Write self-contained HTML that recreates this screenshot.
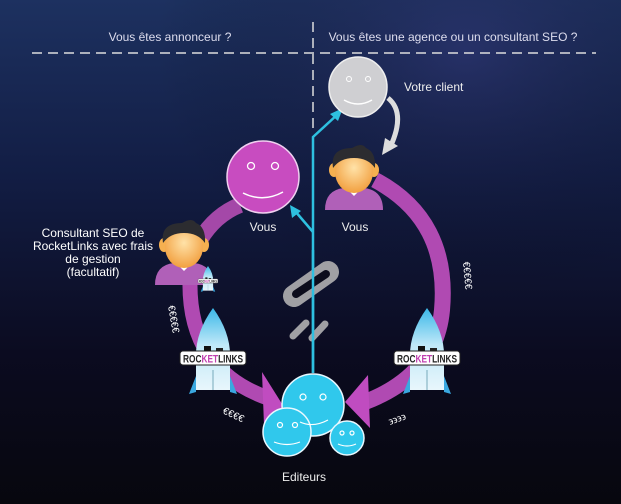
<!DOCTYPE html>
<html><head><meta charset="utf-8"><style>
html,body{margin:0;padding:0;width:621px;height:504px;overflow:hidden;background:#0a0a14}
svg{display:block}
text{font-family:"Liberation Sans",Arial,sans-serif;fill:#fff}
</style></head><body>
<svg width="621" height="504" viewBox="0 0 621 504" xmlns="http://www.w3.org/2000/svg">
<defs>
<linearGradient id="bg" x1="0" y1="0" x2="0" y2="1">
<stop offset="0" stop-color="#1d3160"/><stop offset="0.35" stop-color="#121d44"/><stop offset="0.7" stop-color="#0b0b20"/><stop offset="1" stop-color="#07070e"/>
</linearGradient>
<radialGradient id="glow" cx="0.75" cy="0.1" r="0.5"><stop offset="0" stop-color="#3a3a80" stop-opacity="0.4"/><stop offset="1" stop-color="#000" stop-opacity="0"/></radialGradient>
<radialGradient id="face" cx="0.5" cy="0.4" r="0.6"><stop offset="0" stop-color="#ffe2a8"/><stop offset="1" stop-color="#f2a040"/></radialGradient>
<linearGradient id="rock" x1="0" y1="0" x2="0" y2="1"><stop offset="0" stop-color="#3ab8e8"/><stop offset="0.45" stop-color="#bfe8f8"/><stop offset="1" stop-color="#e8f6fc"/></linearGradient>
<g id="person">
<path d="M-29,38 Q-29,18 -10,16 L10,16 Q29,18 29,38 Z" fill="#b060b8"/>
<path d="M-8,16 L0,24 L8,16 Z" fill="#fff"/>
<ellipse cx="-20" cy="-2" rx="5" ry="7" fill="#f5b050"/><ellipse cx="20" cy="-2" rx="5" ry="7" fill="#f5b050"/>
<ellipse cx="0" cy="0" rx="19" ry="21" fill="url(#face)"/>
<path d="M-21,-4 Q-24,-24 -2,-24 Q8,-30 12,-24 Q22,-20 21,-4 Q14,-14 0,-14 Q-14,-14 -21,-4 Z" fill="#2c2c30"/>
</g>
<g id="rocket">
<path d="M0,0 Q-18,25 -17,50 L-17,82 L17,82 L17,50 Q18,25 0,0 Z" fill="url(#rock)"/>
<path d="M-17,68 L-24,86 L-17,84 Z M17,68 L24,86 L17,84 Z" fill="#3aa8e0"/>
<rect x="-9" y="38" width="7" height="7" fill="#111"/><rect x="3" y="40" width="7" height="7" fill="#222"/>
<rect x="-33" y="43" width="66" height="14" rx="3" fill="#fff" stroke="#222" stroke-width="1"/>
<text x="-30" y="54.5" font-size="11" font-weight="bold" textLength="60" lengthAdjust="spacingAndGlyphs" style="fill:#222">ROC<tspan style="fill:#c040b0">KET</tspan>LINKS</text>
<line x1="0" y1="62" x2="0" y2="82" stroke="#7ab" stroke-width="1"/>
</g>
</defs>
<rect width="621" height="504" fill="url(#bg)"/>
<rect width="621" height="504" fill="url(#glow)"/>

<text x="170" y="41" font-size="12" text-anchor="middle" style="fill:#dde">Vous êtes annonceur ?</text>
<text x="453" y="41" font-size="12" text-anchor="middle" style="fill:#dde">Vous êtes une agence ou un consultant SEO ?</text>
<line x1="32" y1="53" x2="596" y2="53" stroke="#ddd" stroke-width="1.5" stroke-dasharray="10,6"/>
<line x1="313" y1="22" x2="313" y2="134" stroke="#ddd" stroke-width="1.5" stroke-dasharray="10,6"/>

<path d="M240,205 Q215,215 200,240" fill="none" stroke="#a448a8" stroke-width="16"/>
<path d="M190,280 Q188,370 268,398" fill="none" stroke="#b04ab2" stroke-width="15"/>
<polygon points="262,372 284,407 264,425" fill="#c04cc0"/>
<path d="M375,180 Q450,220 442,310 Q436,375 365,402" fill="none" stroke="#b04ab2" stroke-width="16"/>
<polygon points="368,375 345,402 370,428" fill="#c04cc0"/>

<path d="M313,373 L313,137 L338,114" fill="none" stroke="#2ec0e0" stroke-width="2.5"/>
<polygon points="343,108 330,114 338,121" fill="#2ec0e0"/>
<line x1="313" y1="232" x2="295" y2="211" stroke="#2ec0e0" stroke-width="2.5"/>
<polygon points="290,205 292,218 301,211" fill="#2ec0e0"/>

<ellipse cx="358" cy="87" rx="29" ry="30" fill="#cfcfd2" stroke="#eee" stroke-width="1.5"/>
<circle cx="349" cy="79" r="2.5" fill="none" stroke="#fff"/><circle cx="368" cy="79" r="2.5" fill="none" stroke="#fff"/>
<path d="M344,100 Q358,108 372,100" fill="none" stroke="#fff" stroke-width="1.5"/>
<text x="404" y="91" font-size="12" style="fill:#eee">Votre client</text>
<path d="M388,98 Q405,112 392,143" fill="none" stroke="#ddd" stroke-width="5"/>
<polygon points="382,155 385,138 398,146" fill="#ddd"/>

<circle cx="263" cy="177" r="36" fill="#c84cc0" stroke="#f0d0f0" stroke-width="1.5"/>
<circle cx="251" cy="166" r="3.5" fill="none" stroke="#fff" stroke-width="1.3"/><circle cx="275" cy="166" r="3.5" fill="none" stroke="#fff" stroke-width="1.3"/>
<path d="M243,193 Q263,203 283,192" fill="none" stroke="#fff" stroke-width="1.5"/>

<use href="#person" x="354" y="172"/>
<use href="#person" x="184" y="247"/>
<text x="263" y="231" font-size="12" text-anchor="middle" style="fill:#eee">Vous</text>
<text x="355" y="231" font-size="12" text-anchor="middle" style="fill:#eee">Vous</text>

<g font-size="12" text-anchor="middle" style="fill:#eee">
<text x="93" y="237">Consultant SEO de</text>
<text x="93" y="250">RocketLinks avec frais</text>
<text x="93" y="263">de gestion</text>
<text x="93" y="276">(facultatif)</text>
</g>

<g transform="translate(208,266) scale(0.3)"><use href="#rocket"/></g>
<use href="#rocket" x="213" y="308"/>
<use href="#rocket" x="427" y="308"/>

<g fill="none" stroke-linecap="round">
<path d="M294,296 L328,272" stroke="#a0a0a4" stroke-width="22"/>
<path d="M296,294 L326,274" stroke="#0c0c1c" stroke-width="8"/>
<path d="M293,336 L306,323" stroke="#a0a0a4" stroke-width="7"/>
<path d="M312,338 L325,324" stroke="#a0a0a4" stroke-width="7"/>
</g>
<line x1="313" y1="250" x2="313" y2="373" stroke="#2ec0e0" stroke-width="2.5"/>

<g font-size="10" style="fill:#eee">
<text transform="translate(168,306) rotate(80)">€€€€€</text>
<text transform="translate(463,262) rotate(85)">€€€€€</text>
<text transform="translate(222,413) rotate(25)">€€€€</text>
<text transform="translate(390,425) rotate(-20)">϶϶϶϶</text>
</g>

<g fill="#30c8ec" stroke="#e8f8ff" stroke-width="1.5">
<circle cx="313" cy="405" r="31"/>
<circle cx="287" cy="432" r="24"/>
<circle cx="347" cy="438" r="17"/>
</g>
<g fill="none" stroke="#fff" stroke-width="1.2">
<circle cx="303" cy="397" r="3"/><circle cx="323" cy="397" r="3"/><path d="M300,422 Q313,428 328,420"/>
<circle cx="280" cy="425" r="2.5"/><circle cx="295" cy="425" r="2.5"/><path d="M274,442 Q287,447 300,442"/>
<circle cx="342" cy="433" r="2"/><circle cx="352" cy="433" r="2"/><path d="M338,444 Q347,448 356,444"/>
</g>
<text x="304" y="481" font-size="12" text-anchor="middle" style="fill:#eee">Editeurs</text>
</svg>
</body></html>
